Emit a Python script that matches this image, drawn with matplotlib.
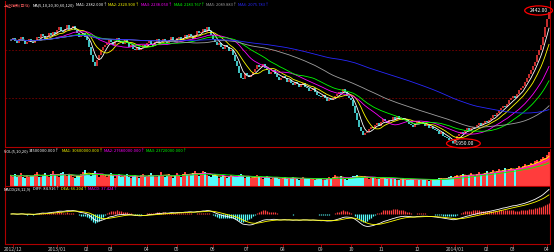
import matplotlib.pyplot as plt
import numpy as np
import pandas as pd

plt.rcParams['font.family'] = ['Liberation Sans Narrow', 'Noto Sans CJK SC', 'DejaVu Sans']

# daily closes (index points)
close = [2337, 2345, 2332, 2326, 2340, 2348, 2335, 2322, 2330, 2341, 2330,
         2325, 2338, 2350, 2344, 2360, 2352, 2340, 2349, 2362, 2356,
         2368, 2361, 2374, 2385, 2372, 2366, 2380, 2392, 2378, 2382,
         2390, 2374, 2365, 2350, 2356, 2362, 2350, 2336, 2310, 2282,
         2255, 2240, 2262, 2280, 2300, 2312, 2318,
         2325, 2340, 2328, 2318, 2335, 2345, 2332, 2330,
         2322, 2338, 2326, 2312, 2320, 2305, 2298, 2312, 2300, 2307,
         2318, 2310, 2325, 2335, 2322, 2316, 2330, 2340, 2328, 2330,
         2342, 2335, 2325, 2338, 2348, 2336, 2330, 2344, 2350, 2337,
         2345, 2356, 2348, 2360, 2352, 2342, 2355, 2370, 2362, 2367,
         2380, 2368, 2385, 2372, 2355, 2340, 2330, 2318,
         2325, 2312, 2305, 2318, 2310, 2296, 2300,
         2282, 2260, 2238, 2215, 2196, 2190, 2212, 2205, 2198, 2206,
         2218, 2228, 2242, 2235, 2240, 2248, 2232, 2225, 2210, 2217,
         2225, 2208, 2200, 2188, 2194,
         2202, 2195, 2180, 2186, 2175, 2168, 2180, 2172, 2160, 2168,
         2175, 2162, 2155, 2145, 2149, 2155, 2140, 2132, 2126, 2123,
         2130, 2118, 2108, 2115, 2112, 2120, 2128, 2135, 2142, 2138, 2152,
         2140, 2128, 2118, 2112, 2090, 2062, 2036, 2012, 1995,
         1982, 1986, 1991, 2002, 2012, 2008, 2018,
         2025, 2015, 2028, 2040, 2032, 2026, 2038, 2036,
         2046, 2038, 2050, 2042, 2044, 2035, 2040, 2028, 2022, 2018,
         2012, 2020, 2032, 2025, 2029, 2022, 2015, 2020, 2008, 2012, 2002, 1999,
         1995, 1985, 1990, 1978, 1972, 1969, 1962, 1958, 1950,
         1965, 1975, 1985, 1991, 1985, 1998, 2005, 1996, 2006,
         2012, 2008, 2018, 2025, 2016, 2024, 2032, 2029,
         2038, 2045, 2055, 2050, 2062, 2075, 2082,
         2090, 2085, 2098, 2110, 2119, 2125, 2118, 2135, 2148, 2157,
         2165, 2180, 2195, 2210, 2224, 2240, 2255, 2280, 2300, 2318,
         2350, 2385, 2415, 2442]

volume = [110, 95, 120, 88, 102, 130, 97, 85, 118, 92, 105, 99, 125, 140, 96, 88, 112, 135, 101, 93, 128, 150, 118, 104, 96, 132, 145, 110, 98, 120,
          115, 92, 86, 105, 99, 122, 140, 160, 128, 112, 98, 130, 155, 118, 95, 108, 125, 102, 90, 115, 132, 98, 87, 104, 120, 96, 88, 110, 126, 94,
          86, 100, 118, 92, 84, 108, 122, 96, 90, 112, 130, 102, 88, 96, 118, 140, 110, 92, 104, 126, 98, 86, 112, 134, 105, 95, 120, 145, 128, 108,
          116, 138, 150, 122, 104, 130, 155, 142, 118, 100, 92, 110, 125, 98, 86, 94, 112, 100, 84, 92, 118, 105, 96, 88, 110, 122, 98, 82, 90, 104,
          86, 78, 95, 108, 90, 82, 76, 92, 100, 84, 72, 80, 95, 86, 74, 70, 82, 90, 76, 68, 84, 95, 78, 70, 66, 80, 88, 74, 68, 76,
          82, 70, 64, 72, 86, 78, 66, 60, 74, 90, 82, 95, 108, 88, 76, 98, 85, 72, 66, 80, 92, 105, 98, 110, 96, 84, 90, 102, 88, 76,
          82, 96, 88, 74, 70, 84, 92, 80, 72, 68, 78, 86, 74, 66, 62, 70, 80, 72, 64, 60, 68, 76, 70, 62, 58, 66, 74, 68, 60, 56,
          64, 72, 66, 70, 78, 84, 76, 70, 82, 90, 98, 86, 104, 118, 96, 110, 125, 108, 98, 115, 130, 112, 104, 122, 140, 118, 126, 135, 150, 128,
          145, 160, 138, 152, 170, 155, 165, 180, 158, 172, 190, 175, 168, 185, 205, 190, 210, 228, 205, 220, 240, 225, 255, 270, 248, 280, 300, 285, 320, 345]

month_labels = ["2012/12", "2013/01", "02", "03", "04", "05", "06", "07", "08",
                "09", "10", "11", "12", "2014/01", "02", "03", "04"]
month_starts = [1, 23, 38, 50, 68, 83, 101, 118, 136, 155, 170, 185, 203, 222, 238, 251, 268]

ma_periods = [5, 10, 20, 30, 60, 120]
ma_colors = ["#ffffff", "#ffff00", "#ff00ff", "#00ff00", "#a0a0a0", "#2828ff"]
vol_colors = ["#ffff00", "#ff00ff", "#00ff00"]

n = min(len(close), len(volume))
c = pd.Series(close[:n], dtype=float)
v = pd.Series(volume[:n], dtype=float)
o = c.shift(1).fillna(c.iloc[0])
x = np.arange(n)
up = (c >= o).values

UP = "#ff3c3c"
DOWN = "#54fcfc"
RED = "#b00000"
W, H = 554, 252

mas = [c.rolling(p, min_periods=1).mean() for p in ma_periods]
vmas = [v.rolling(p, min_periods=1).mean() for p in (5, 10, 20)]
dif = c.ewm(span=12, adjust=False).mean() - c.ewm(span=26, adjust=False).mean()
dea = dif.ewm(span=9, adjust=False).mean()
macd = 2 * (dif - dea)

fig = plt.figure(figsize=(W / 100, H / 100), dpi=100, facecolor="black")


def pane(top, bottom):
    a = fig.add_axes([5 / W, 1 - bottom / H, 545 / W, (bottom - top) / H], facecolor="black")
    for s in a.spines.values():
        s.set_color(RED)
        s.set_linewidth(0.8)
    a.spines['top'].set_visible(False)
    a.set_xlim(-3, n - 0.5)
    a.set_xticks([])
    a.set_yticks([])
    return a


ax = pane(1, 147)
axv = pane(149, 186)
axm = pane(187, 244)

# price pane
ax.set_ylim(1935, 2484)
for lvl in (2300, 2120):
    ax.axhline(lvl, color="#7a0000", lw=0.6, ls=(0, (2, 2)))
ax.vlines(x[up], o[up], c[up], color=UP, lw=1.1)
ax.vlines(x[~up], o[~up], c[~up], color=DOWN, lw=1.1)
for m, col in zip(mas, ma_colors):
    ax.plot(x, m, color=col, lw=0.6)

hi = int(c.idxmax())
lo = int(c.idxmin())
ax.annotate(f"{c[hi]:.2f}", (hi, c[hi]), xytext=(-7.5, 1.2), textcoords="offset points",
            color="white", fontsize=3.6, ha="center", va="center",
            bbox=dict(boxstyle="ellipse,pad=0.15", fc="none", ec="red", lw=0.9))
ax.annotate(f"—{c[lo]:.2f}", (lo, c[lo]), xytext=(7.5, -0.3), textcoords="offset points",
            color="white", fontsize=3.6, ha="center", va="center",
            bbox=dict(boxstyle="ellipse,pad=0.15", fc="none", ec="red", lw=0.9))

# volume pane
axv.set_ylim(0, 380)
axv.bar(x[up], v[up], width=0.75, color=UP, lw=0)
axv.bar(x[~up], v[~up], width=0.75, color=DOWN, lw=0)
for m, col in zip(vmas, vol_colors):
    axv.plot(x, m, color=col, lw=0.6)

# macd pane, zero line a bit above the middle
top = max(dif.max(), dea.max(), macd.max()) * 1.1
axm.set_ylim(-top * 30 / 27, top)
mu = (macd >= 0).values
axm.vlines(x[mu], 0, macd[mu], color=UP, lw=0.9)
axm.vlines(x[~mu], 0, macd[~mu], color=DOWN, lw=0.9)
axm.plot(x, dif, color="#ffffff", lw=0.6)
axm.plot(x, dea, color="#ffff00", lw=0.6)
axm.set_xticks(month_starts)
axm.set_xticklabels(month_labels, fontsize=3.6)
axm.tick_params(axis="x", colors=RED, labelcolor="#c8c8c8", length=2, width=0.6, pad=0.3)

renderer = fig.canvas.get_renderer()


def text_row(x0, y, parts, size=2.9):
    xp = x0
    for s, col in parts:
        t = fig.text(xp / W, 1 - y / H, s, color=col, fontsize=size, va="center", ha="left")
        xp += t.get_window_extent(renderer=renderer).width + 1.5


def arrow(series):
    return "↑" if series.iloc[-1] >= series.iloc[-2] else "↓"


title = [("上证指数(日线)", "#ff6060"), ("MA(5,10,20,30,60,120)", "white")]
for k, (m, col) in enumerate(zip(mas, ma_colors)):
    title.append((f"MA{k + 1}: {m.iloc[-1]:.3f}{arrow(m)}", col))
text_row(4, 5, title)

vol_row = [("VOL(5,10,20)", "white"), (f"{v.iloc[-1] * 1e5:.3f}{arrow(v)}", "white")]
for k, (m, col) in enumerate(zip(vmas, vol_colors)):
    vol_row.append((f"MA{k + 1}: {m.iloc[-1] * 1e5:.3f}{arrow(m)}", col))
text_row(4, 151, vol_row)

text_row(4, 189, [("MACD(26,12,9)", "white"), (f"DIFF: {dif.iloc[-1]:.3f}{arrow(dif)}", "white"),
                  (f"DEA: {dea.iloc[-1]:.3f}{arrow(dea)}", "#ffff00"),
                  (f"MACD: {macd.iloc[-1]:.3f}{arrow(macd)}", "#ff00ff")])

fig.savefig("out.png", dpi=100, facecolor="black")
